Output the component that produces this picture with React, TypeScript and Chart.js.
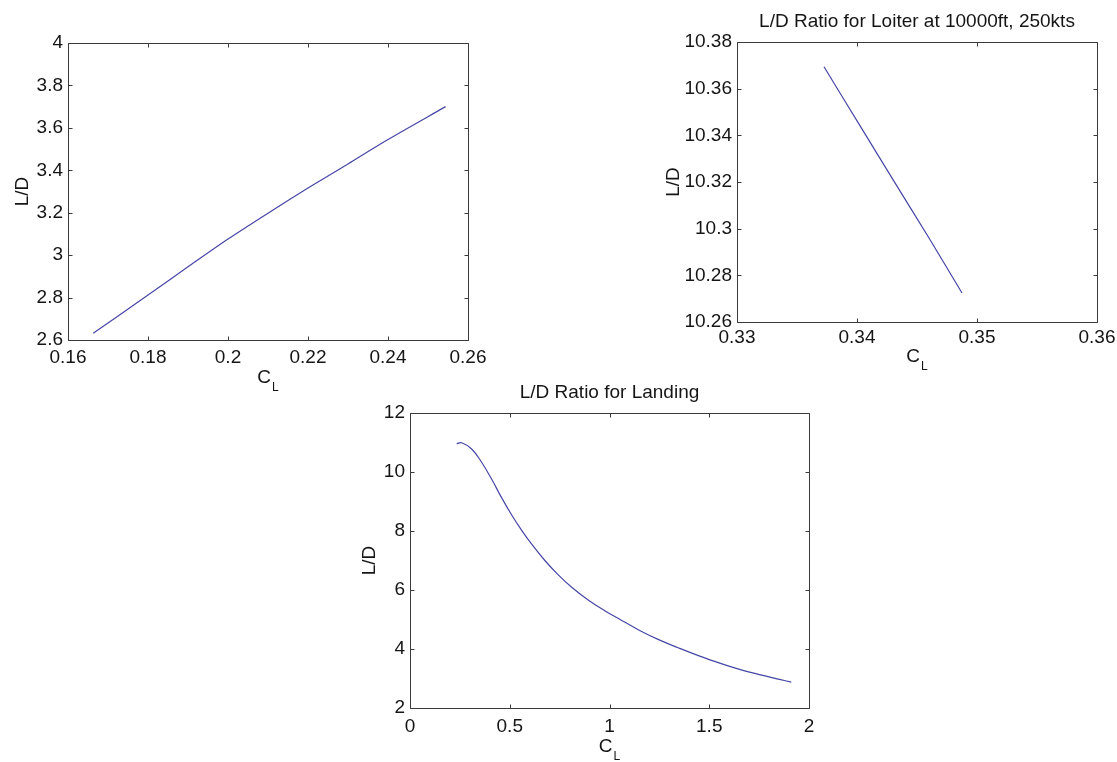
import React, { useEffect, useRef } from 'react';
import { Chart, registerables } from 'chart.js';

Chart.register(...registerables);

// ---------- data ----------
// Panel 1 (top-left): L/D vs C_L (no title)
const cl1 = [0.1663, 0.18, 0.19, 0.2, 0.21, 0.22, 0.23, 0.24, 0.2544];
const ld1 = [2.632, 2.812, 2.945, 3.076, 3.198, 3.316, 3.43, 3.545, 3.7];
const xTicks1 = [0.16, 0.18, 0.2, 0.22, 0.24, 0.26];
const xTickLabels1 = ['0.16', '0.18', '0.2', '0.22', '0.24', '0.26'];
const yTicks1 = [2.6, 2.8, 3, 3.2, 3.4, 3.6, 3.8, 4];
const yTickLabels1 = ['2.6', '2.8', '3', '3.2', '3.4', '3.6', '3.8', '4'];

// Panel 2 (top-right): Loiter
const title2 = 'L/D Ratio for Loiter at 10000ft, 250kts';
const cl2 = [0.33725, 0.3405, 0.343, 0.346, 0.34875];
const ld2 = [10.3694, 10.342, 10.321, 10.296, 10.2724];
const xTicks2 = [0.33, 0.34, 0.35, 0.36];
const xTickLabels2 = ['0.33', '0.34', '0.35', '0.36'];
const yTicks2 = [10.26, 10.28, 10.3, 10.32, 10.34, 10.36, 10.38];
const yTickLabels2 = ['10.26', '10.28', '10.3', '10.32', '10.34', '10.36', '10.38'];

// Panel 3 (bottom): Landing
const title3 = 'L/D Ratio for Landing';
const cl3 = [0.234, 0.259, 0.309, 0.359, 0.409, 0.459, 0.509, 0.559, 0.609, 0.676, 0.742, 0.809, 0.893, 0.976, 1.051, 1.151, 1.252, 1.352, 1.452, 1.552, 1.652, 1.752, 1.852, 1.911];
const ld3 = [10.96, 10.99, 10.78, 10.33, 9.76, 9.13, 8.55, 8.03, 7.56, 7.0, 6.52, 6.1, 5.66, 5.3, 5.01, 4.63, 4.3, 4.02, 3.76, 3.52, 3.31, 3.13, 2.97, 2.88];
const xTicks3 = [0, 0.5, 1, 1.5, 2];
const xTickLabels3 = ['0', '0.5', '1', '1.5', '2'];
const yTicks3 = [2, 4, 6, 8, 10, 12];
const yTickLabels3 = ['2', '4', '6', '8', '10', '12'];

const yAxisTitle = 'L/D';
const xAxisTitleMain = 'C';
const xAxisTitleSub = 'L';

// ---------- styling ----------
const W = 1117;
const H = 762;
const FAMILY = '"Liberation Sans", Arial, Helvetica, sans-serif';
const FS = 19;
const TEXT = '#151515';
const AXIS = '#3a3a3a';
const LINE = '#4646a6';
const TICK_LEN = 4;
const YW = 66;
const XH = 30;

type Panel = {
  area: { left: number; top: number; right: number; bottom: number };
  cl: number[];
  ld: number[];
  xTicks: number[];
  xTickLabels: string[];
  yTicks: number[];
  yTickLabels: string[];
  title?: string;
  yLabelOffset: number;
  xLabelBaseline: number;
  xPad: number;
  tension: number;
};

const panels: Panel[] = [
  {
    area: { left: 68, top: 43, right: 468, bottom: 340 },
    cl: cl1, ld: ld1, xTicks: xTicks1, xTickLabels: xTickLabels1, yTicks: yTicks1, yTickLabels: yTickLabels1,
    yLabelOffset: 45.5, xLabelBaseline: 43, xPad: 6, tension: 0.3,
  },
  {
    area: { left: 737, top: 42, right: 1097, bottom: 322 },
    cl: cl2, ld: ld2, xTicks: xTicks2, xTickLabels: xTickLabels2, yTicks: yTicks2, yTickLabels: yTickLabels2,
    title: title2, yLabelOffset: 63.5, xLabelBaseline: 40, xPad: 4.5, tension: 0.3,
  },
  {
    area: { left: 410, top: 413, right: 809, bottom: 708 },
    cl: cl3, ld: ld3, xTicks: xTicks3, xTickLabels: xTickLabels3, yTicks: yTicks3, yTickLabels: yTickLabels3,
    title: title3, yLabelOffset: 40.5, xLabelBaseline: 44, xPad: 7, tension: 0.4,
  },
];

const matlabFrame = {
  id: 'matlabFrame',
  afterDraw(chart: any, _args: any, opts: any) {
    const { ctx, chartArea: a, scales } = chart;
    ctx.save();
    ctx.strokeStyle = AXIS;
    ctx.lineWidth = 1;
    const L = Math.round(a.left) + 0.5;
    const R = Math.round(a.right) + 0.5;
    const T = Math.round(a.top) + 0.5;
    const B = Math.round(a.bottom) + 0.5;
    ctx.beginPath();
    ctx.rect(L, T, R - L, B - T);
    scales.x.ticks.forEach((t: any) => {
      const px = Math.round(scales.x.getPixelForValue(t.value)) + 0.5;
      ctx.moveTo(px, B); ctx.lineTo(px, B - TICK_LEN);
      ctx.moveTo(px, T); ctx.lineTo(px, T + TICK_LEN);
    });
    scales.y.ticks.forEach((t: any) => {
      const py = Math.round(scales.y.getPixelForValue(t.value)) + 0.5;
      ctx.moveTo(L, py); ctx.lineTo(L + TICK_LEN, py);
      ctx.moveTo(R, py); ctx.lineTo(R - TICK_LEN, py);
    });
    ctx.stroke();

    ctx.fillStyle = TEXT;
    ctx.font = `${FS}px ${FAMILY}`;
    const cx = (a.left + a.right) / 2;
    if (opts.title) {
      ctx.textAlign = 'center';
      ctx.textBaseline = 'alphabetic';
      ctx.fillText(opts.title, cx, a.top - 15);
    }
    // x axis label C_L
    ctx.textAlign = 'left';
    ctx.textBaseline = 'alphabetic';
    const wC = ctx.measureText(xAxisTitleMain).width;
    ctx.font = `12px ${FAMILY}`;
    const wL = ctx.measureText(xAxisTitleSub).width;
    const x0 = cx - (wC + wL + 1) / 2;
    const by = a.bottom + opts.xLabelBaseline;
    ctx.font = `${FS}px ${FAMILY}`;
    ctx.fillText(xAxisTitleMain, x0, by);
    ctx.font = `12px ${FAMILY}`;
    ctx.fillText(xAxisTitleSub, x0 + wC + 1, by + 8);
    // y axis label
    ctx.font = `${FS}px ${FAMILY}`;
    ctx.translate(a.left - opts.yLabelOffset, (a.top + a.bottom) / 2);
    ctx.rotate(-Math.PI / 2);
    ctx.textAlign = 'center';
    ctx.textBaseline = 'middle';
    ctx.fillText(yAxisTitle, 0, 0);
    ctx.restore();
  },
};

function PanelChart({ p }: { p: Panel }) {
  const ref = useRef<HTMLCanvasElement | null>(null);
  useEffect(() => {
    if (!ref.current) return;
    const font = { family: FAMILY, size: FS };
    const chart = new Chart(ref.current, {
      type: 'scatter',
      data: {
        datasets: [
          {
            data: p.cl.map((x, i) => ({ x, y: p.ld[i] })),
            showLine: true,
            borderColor: LINE,
            borderWidth: 1.2,
            pointRadius: 0,
            tension: p.tension,
            fill: false,
          } as any,
        ],
      },
      options: {
        responsive: false,
        animation: false,
        devicePixelRatio: 1,
        events: [],
        layout: {
          padding: {
            left: p.area.left - YW,
            top: p.area.top,
            right: W - p.area.right,
            bottom: H - p.area.bottom - XH,
          },
        },
        plugins: {
          legend: { display: false },
          tooltip: { enabled: false },
          title: { display: false },
          matlabFrame: {
            title: p.title,
            yLabelOffset: p.yLabelOffset,
            xLabelBaseline: p.xLabelBaseline,
          },
        } as any,
        scales: {
          x: {
            type: 'linear',
            position: 'bottom',
            min: p.xTicks[0],
            max: p.xTicks[p.xTicks.length - 1],
            afterBuildTicks: (s: any) => { s.ticks = p.xTicks.map((v) => ({ value: v })); },
            afterFit: (s: any) => {
              s.height = XH;
              s.paddingLeft = 0;
              s.paddingRight = 0;
            },
            grid: { display: false, drawTicks: false },
            border: { display: false },
            ticks: {
              callback: (_v: any, i: number) => p.xTickLabels[i],
              font, color: TEXT, padding: p.xPad, maxRotation: 0, autoSkip: false,
            },
          },
          y: {
            type: 'linear',
            position: 'left',
            min: p.yTicks[0],
            max: p.yTicks[p.yTicks.length - 1],
            afterBuildTicks: (s: any) => { s.ticks = p.yTicks.map((v) => ({ value: v })); },
            afterFit: (s: any) => {
              s.width = YW;
              s.paddingTop = 0;
              s.paddingBottom = 0;
            },
            grid: { display: false, drawTicks: false },
            border: { display: false },
            ticks: {
              callback: (_v: any, i: number) => p.yTickLabels[i],
              font, color: TEXT, padding: 5, autoSkip: false,
            },
          },
        },
      },
      plugins: [matlabFrame],
    });
    return () => chart.destroy();
  }, [p]);
  return (
    <canvas
      ref={ref}
      width={W}
      height={H}
      style={{ position: 'absolute', left: 0, top: 0, width: W, height: H }}
    />
  );
}

export default function App() {
  return (
    <div style={{ position: 'absolute', left: 0, top: 0, width: W, height: H, background: '#ffffff', overflow: 'hidden' }}>
      {panels.map((p, i) => (
        <PanelChart key={i} p={p} />
      ))}
    </div>
  );
}
